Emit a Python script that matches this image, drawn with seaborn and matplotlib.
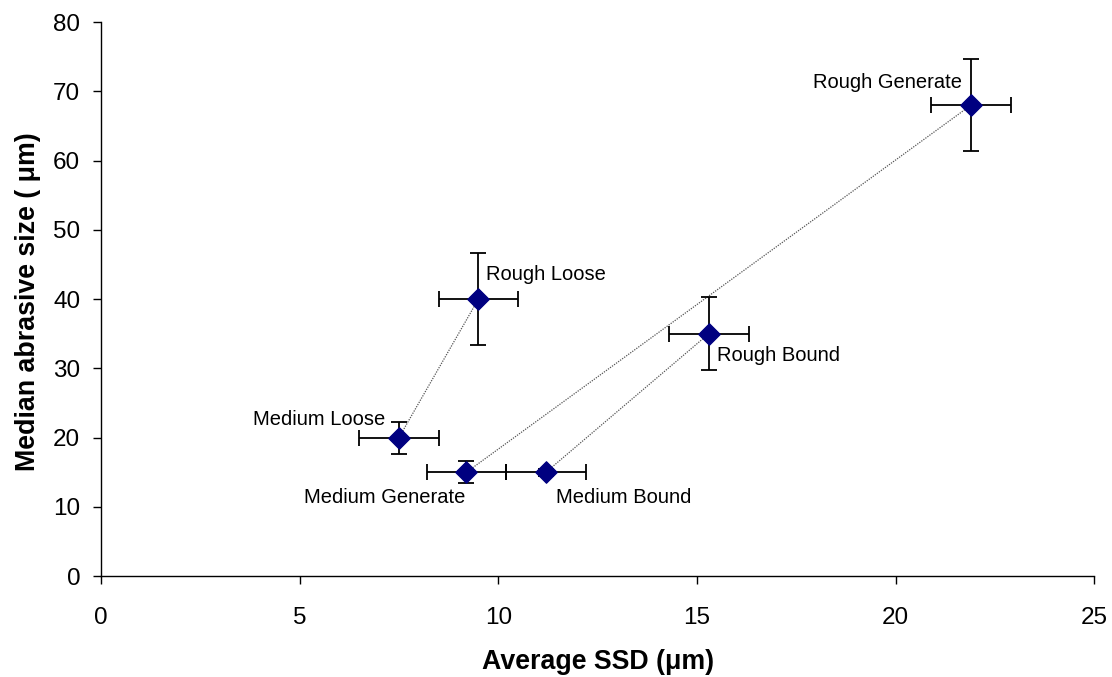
import matplotlib
matplotlib.use("Agg")
import matplotlib.pyplot as plt
import seaborn as sns
import pandas as pd

names = ["Rough Generate", "Rough Bound", "Rough Loose",
         "Medium Loose", "Medium Generate", "Medium Bound"]
ssd = [21.9, 15.3, 9.5, 7.5, 9.2, 11.2]
abrasive = [68.0, 35.0, 40.0, 20.0, 15.0, 15.0]
ssd_err = [1.0, 1.0, 1.0, 1.0, 1.0, 1.0]
abr_err = [6.6, 5.3, 6.6, 2.3, 1.6, 0.5]
pairs = [("Medium Loose", "Rough Loose"),
         ("Medium Generate", "Rough Generate"),
         ("Medium Bound", "Rough Bound")]

df = pd.DataFrame({"name": names, "ssd": ssd, "abr": abrasive,
                   "xerr": ssd_err, "yerr": abr_err})

sns.set_theme(style="ticks")
plt.rcParams["font.family"] = ["Liberation Sans", "DejaVu Sans"]
plt.rcParams["text.color"] = "black"
plt.rcParams["axes.labelcolor"] = "black"
plt.rcParams["xtick.color"] = "black"
plt.rcParams["ytick.color"] = "black"

fig = plt.figure(figsize=(11.12, 6.77), dpi=100)
ax = fig.add_axes([0.0908, 0.149, 0.8932, 0.8185])

lookup = df.set_index("name")
for a, b in pairs:
    seg = lookup.loc[[a, b]]
    sns.lineplot(x=seg["ssd"].values, y=seg["abr"].values, ax=ax,
                 color="#555555", linestyle=(0, (1, 1)), linewidth=0.9,
                 sort=False, estimator=None)

ax.errorbar(df["ssd"], df["abr"], xerr=df["xerr"], yerr=df["yerr"],
            fmt="none", ecolor="black", elinewidth=1.3, capsize=6,
            capthick=1.3, zorder=3)
sns.scatterplot(data=df, x="ssd", y="abr", ax=ax, marker="D", s=120,
                color="#000080", edgecolor="#000080", zorder=4)

# label placement (text offsets relative to each point, data units)
label_pos = {
    "Rough Generate": (-0.22, 3.2, "right"),
    "Rough Bound": (0.21, -3.2, "left"),
    "Rough Loose": (0.19, 3.5, "left"),
    "Medium Loose": (-0.35, 2.6, "right"),
    "Medium Generate": (-0.04, -3.7, "right"),
    "Medium Bound": (0.25, -3.7, "left"),
}
for _, r in df.iterrows():
    dx, dy, ha = label_pos[r["name"]]
    ax.text(r["ssd"] + dx, r["abr"] + dy, r["name"], ha=ha, va="center",
            fontsize=14.5, color="black")

ax.set_xlim(0, 25)
ax.set_ylim(0, 80)
ax.set_xticks([0, 5, 10, 15, 20, 25])
ax.set_yticks(range(0, 81, 10))
ax.tick_params(axis="both", labelsize=17.5, direction="out", length=6,
               width=1, color="black")
ax.tick_params(axis="x", pad=16)
ax.tick_params(axis="y", pad=9)
for s in ["top", "right"]:
    ax.spines[s].set_visible(False)
for s in ["left", "bottom"]:
    ax.spines[s].set_color("black")
    ax.spines[s].set_linewidth(1)
ax.set_xlabel("Average SSD (μm)", fontsize=19.3, fontweight="bold", va="center")
ax.set_ylabel("Median abrasive size ( μm)", fontsize=19.3, fontweight="bold",
              va="center")
ax.xaxis.set_label_coords(0.5, -0.155)
ax.yaxis.set_label_coords(-0.0735, 0.495)
ax.grid(False)

fig.savefig("out.png", dpi=100)
